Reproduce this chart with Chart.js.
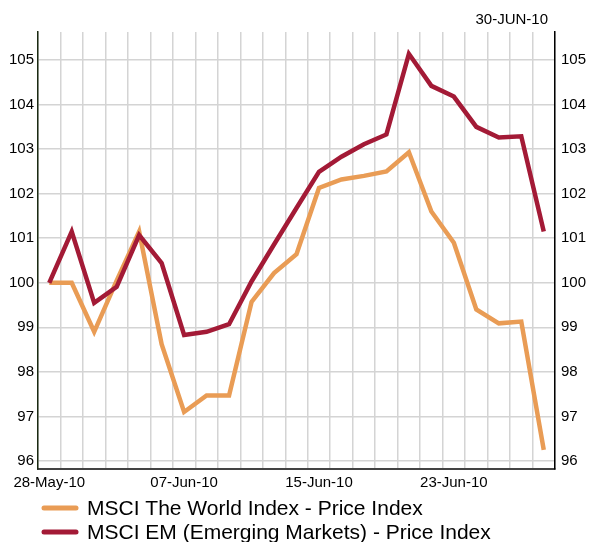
<!DOCTYPE html>
<html>
<head>
<meta charset="utf-8">
<script src="https://cdn.jsdelivr.net/npm/chart.js@4"></script>
<style>
  html, body { margin: 0; padding: 0; background: #fff; }
</style>
</head>
<body>
<canvas id="chartCanvas" width="589" height="542"></canvas>
<script>
// Daily closes, rebased to 100 on 28-May-10
const dates = [
  '28-May-10', '31-May-10', '01-Jun-10', '02-Jun-10', '03-Jun-10', '04-Jun-10',
  '07-Jun-10', '08-Jun-10', '09-Jun-10', '10-Jun-10', '11-Jun-10',
  '14-Jun-10', '15-Jun-10', '16-Jun-10', '17-Jun-10', '18-Jun-10',
  '21-Jun-10', '22-Jun-10', '23-Jun-10', '24-Jun-10', '25-Jun-10',
  '28-Jun-10', '29-Jun-10'
];
const worldIndex = [
  100.0, 100.0, 98.9, 100.05, 101.15, 98.62,
  97.1, 97.47, 97.47, 99.57, 100.22,
  100.64, 102.13, 102.32, 102.4, 102.5,
  102.93, 101.6, 100.9, 99.4, 99.09,
  99.13, 96.25
];
const emIndex = [
  100.0, 101.15, 99.55, 99.91, 101.07, 100.44,
  98.83, 98.9, 99.07, 100.03, 100.86,
  101.68, 102.49, 102.83, 103.11, 103.33,
  105.14, 104.42, 104.18, 103.5, 103.26,
  103.29, 101.15
];
const yTicks = [96, 97, 98, 99, 100, 101, 102, 103, 104, 105];
const dateStamp = '30-JUN-10';

const FONT = '"Liberation Sans", Arial, sans-serif';

// date stamp on top and the legend under the axis
const extras = {
  id: 'extras',
  afterDraw(chart) {
    const { ctx, chartArea } = chart;
    ctx.save();
    ctx.fillStyle = '#000';
    ctx.font = '15px ' + FONT;
    ctx.textAlign = 'right';
    ctx.textBaseline = 'middle';
    ctx.fillText(dateStamp, chartArea.right - 7, chartArea.top - 12);

    ctx.font = '21px ' + FONT;
    ctx.textAlign = 'left';
    chart.data.datasets.forEach((ds, i) => {
      const y = chartArea.bottom + 39 + i * 24;
      ctx.strokeStyle = ds.borderColor;
      ctx.lineWidth = 5;
      ctx.lineCap = 'round';
      ctx.beginPath();
      ctx.moveTo(chartArea.left + 6, y);
      ctx.lineTo(chartArea.left + 38, y);
      ctx.stroke();
      ctx.fillText(ds.label, chartArea.left + 49, y + 1);
    });
    ctx.restore();
  }
};

const yAxis = (position, width, pad, borderColor) => ({
  type: 'linear',
  position: position,
  min: 95.82,
  max: 105.63,
  afterBuildTicks: scale => { scale.ticks = yTicks.map(v => ({ value: v })); },
  afterFit: scale => { scale.width = width; },
  grid: {
    display: true,
    color: position === 'left' ? '#d4d4d4' : 'rgba(0,0,0,0)',
    lineWidth: 1.5,
    drawTicks: false
  },
  border: { color: borderColor, width: 1.5 },
  ticks: {
    color: '#000',
    padding: pad,
    font: { family: FONT, size: 15 }
  }
});

const ctx = document.getElementById('chartCanvas');
new Chart(ctx, {
  type: 'line',
  data: {
    labels: dates,
    datasets: [{
      label: 'MSCI The World Index - Price Index',
      data: worldIndex,
      borderColor: '#e99c55',
      borderWidth: 4.5,
      pointRadius: 0,
      tension: 0,
      fill: false,
      order: 1
    }, {
      label: 'MSCI EM (Emerging Markets) - Price Index',
      data: emIndex,
      borderColor: '#a31a36',
      borderWidth: 4.5,
      pointRadius: 0,
      tension: 0,
      fill: false,
      order: 0
    }]
  },
  options: {
    responsive: false,
    animation: false,
    devicePixelRatio: 1,
    layout: { padding: { top: 32, left: 0, right: 0, bottom: 0 } },
    plugins: {
      legend: { display: false },
      tooltip: { enabled: false }
    },
    scales: {
      x: {
        type: 'category',
        offset: true,
        afterFit: scale => { scale.height = 73; },
        grid: { offset: true, color: '#d4d4d4', lineWidth: 1.5, drawTicks: false },
        border: { color: '#444', width: 2 },
        ticks: {
          autoSkip: false,
          maxRotation: 0,
          color: '#000',
          padding: 5,
          font: { family: FONT, size: 15 },
          callback: (val, i) => (i % 6 === 0 ? dates[i] : '')
        }
      },
      y: yAxis('left', 38, 4, '#1b2a12'),
      y2: yAxis('right', 34, 6, '#000')
    }
  },
  plugins: [extras]
});
</script>
</body>
</html>
